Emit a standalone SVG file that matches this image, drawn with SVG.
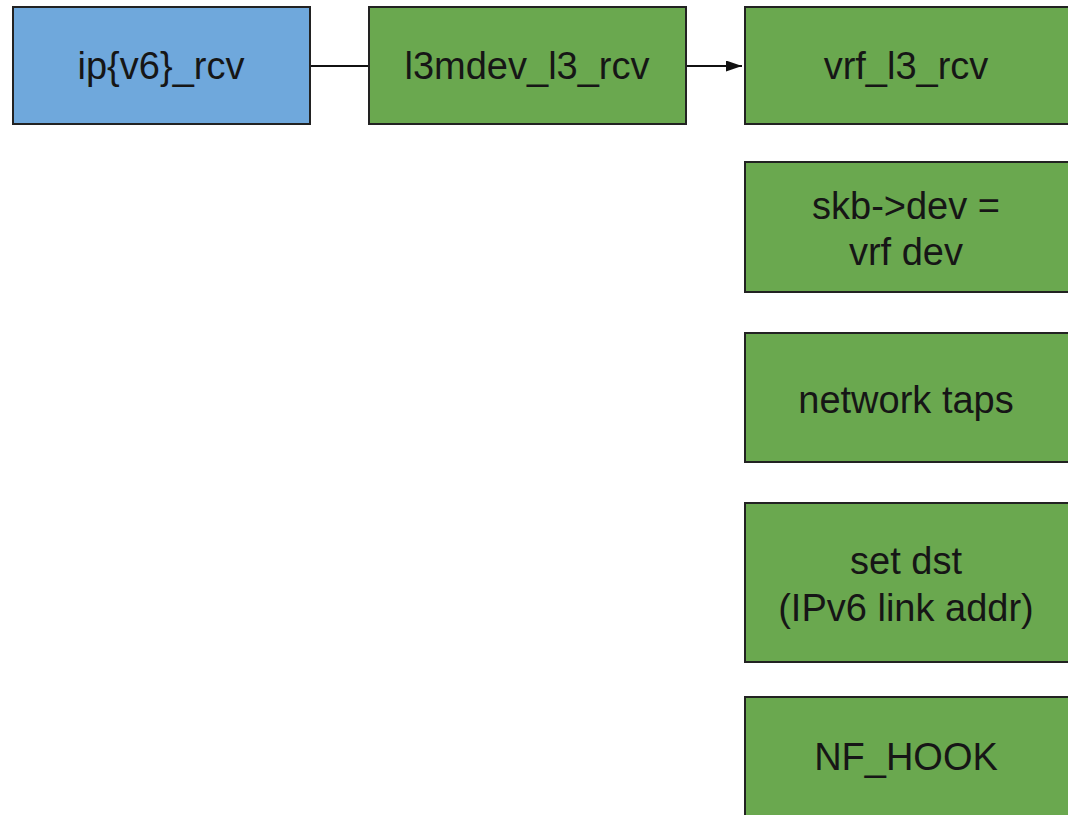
<svg xmlns="http://www.w3.org/2000/svg" width="1068" height="815" viewBox="0 0 1068 815">
  <defs>
    <marker id="arrow" viewBox="0 0 10 10" refX="10" refY="5" markerWidth="16" markerHeight="11" markerUnits="userSpaceOnUse" orient="auto" preserveAspectRatio="none">
      <path d="M0,0 L10,5 L0,10 z" fill="#111"/>
    </marker>
    <style>
      .box { stroke: #222; stroke-width: 2; }
      .blue { fill: #6fa8dc; }
      .green { fill: #6aa84f; }
      .label { font-family: "Liberation Sans", Arial, sans-serif; font-size: 38px; fill: #161616; text-anchor: middle; }
      .edge { stroke: #111; stroke-width: 2; fill: none; }
    </style>
  </defs>
  <rect width="1068" height="815" fill="#ffffff"/>

  <g id="connectors">
    <line class="edge" x1="310" y1="66" x2="369" y2="66"/>
    <line class="edge" x1="686" y1="66" x2="742" y2="66" marker-end="url(#arrow)"/>
  </g>

  <g id="ip_rcv">
    <rect class="box blue" x="13" y="7" width="297" height="117"/>
    <text class="label" x="161" y="79">ip{v6}_rcv</text>
  </g>

  <g id="l3mdev_l3_rcv">
    <rect class="box green" x="369" y="7" width="317" height="117"/>
    <text class="label" x="527" y="79">l3mdev_l3_rcv</text>
  </g>

  <g id="vrf_l3_rcv">
    <rect class="box green" x="745" y="7" width="330" height="117"/>
    <text class="label" x="906" y="79">vrf_l3_rcv</text>
  </g>

  <g id="set_dev">
    <rect class="box green" x="745" y="162" width="330" height="130"/>
    <text class="label" x="906" y="219">skb-&gt;dev =</text>
    <text class="label" x="906" y="265">vrf dev</text>
  </g>

  <g id="network_taps">
    <rect class="box green" x="745" y="333" width="330" height="129"/>
    <text class="label" x="906" y="413">network taps</text>
  </g>

  <g id="set_dst">
    <rect class="box green" x="745" y="503" width="330" height="159"/>
    <text class="label" x="906" y="574">set dst</text>
    <text class="label" x="906" y="621">(IPv6 link addr)</text>
  </g>

  <g id="nf_hook">
    <rect class="box green" x="745" y="697" width="330" height="160"/>
    <text class="label" x="906" y="770">NF_HOOK</text>
  </g>
</svg>
